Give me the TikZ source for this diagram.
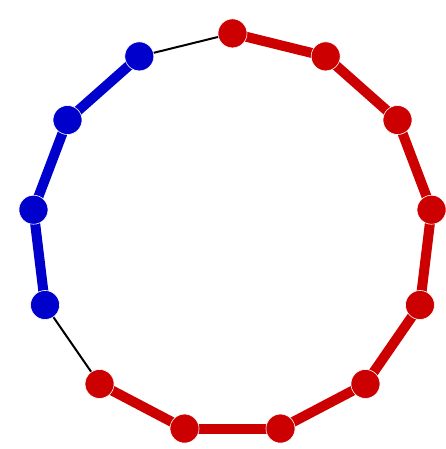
\documentclass[tikz,border=0pt]{standalone}
\usepackage{xcolor}
\usetikzlibrary{backgrounds, calc}
\definecolor{clusterred}{RGB}{204, 0, 0}
\definecolor{clusterblue}{RGB}{0, 0, 204}

\begin{document}
\begin{tikzpicture}[
    x=1pt, y=-1pt,
    vertex/.style={circle, draw=white, line width=0.6pt, minimum size=29pt, inner sep=0pt},
    redvertex/.style={vertex, fill=clusterred},
    bluevertex/.style={vertex, fill=clusterblue},
    redlink/.style={draw=clusterred, line width=10pt},
    bluelink/.style={draw=clusterblue, line width=10pt},
    plainlink/.style={draw=black, line width=2pt}
]
\useasboundingbox (0,0) rectangle (446,449);

% ring of 13 vertices
\foreach \k in {0,...,8}
    \node[redvertex] (v\k) at ($(232.5,233.9)+({-90+\k*360/13}:200.5)$) {};
\foreach \k in {9,...,12}
    \node[bluevertex] (v\k) at ($(232.5,233.9)+({-90+\k*360/13}:200.5)$) {};

\begin{scope}[on background layer]
\foreach \a/\b in {0/1, 1/2, 2/3, 3/4, 4/5, 5/6, 6/7, 7/8}
    \draw[redlink] (v\a.center) -- (v\b.center);
\foreach \a/\b in {9/10, 10/11, 11/12}
    \draw[bluelink] (v\a.center) -- (v\b.center);
\draw[plainlink] (v8.center) -- (v9.center);
\draw[plainlink] (v12.center) -- (v0.center);
\end{scope}

\end{tikzpicture}
\end{document}
